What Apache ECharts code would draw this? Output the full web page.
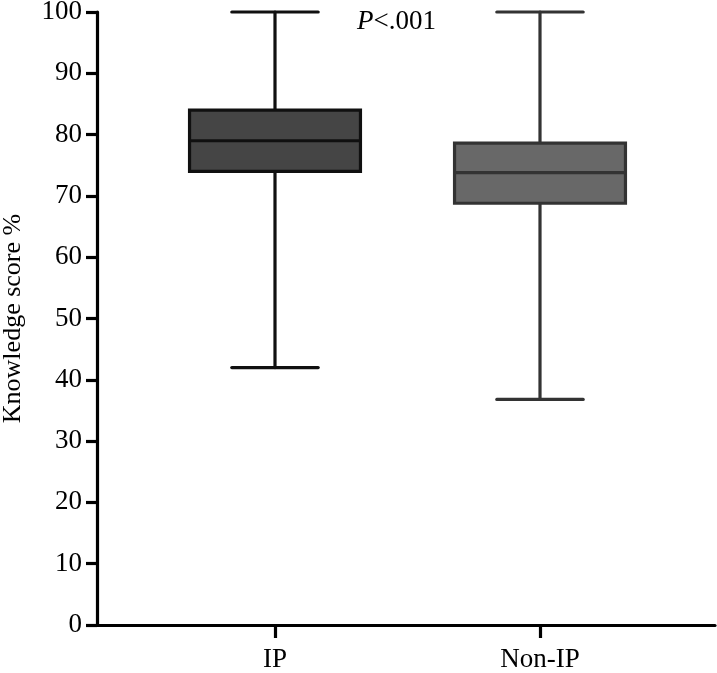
<!DOCTYPE html>
<html>
<head>
<meta charset="utf-8">
<script src="https://cdn.jsdelivr.net/npm/echarts@6/dist/echarts.min.js"></script>
<style>
  html, body { margin: 0; padding: 0; background: #fff; }
  #chart { width: 717px; height: 673px; }
</style>
</head>
<body>
<div id="chart"></div>
<script>
// data
var categories = ['IP', 'Non-IP']
var whiskerLow = [42, 36.8]
var q1 = [74, 68.8]
var median = [79, 73.8]
var q3 = [84, 78.6]
var whiskerHigh = [100, 100]
var yTicks = [0, 10, 20, 30, 40, 50, 60, 70, 80, 90, 100]

var fills = ['#454545', '#686868']
var strokes = ['#101010', '#333333']
var fontFamily = '"Liberation Serif", "Times New Roman", serif'

var boxData = categories.map(function (c, i) {
  return [i, whiskerLow[i], q1[i], median[i], q3[i], whiskerHigh[i]]
})

function renderBox (params, api) {
  var idx = api.value(0)
  var lo = api.coord([idx, api.value(1)])
  var b1 = api.coord([idx, api.value(2)])
  var md = api.coord([idx, api.value(3)])
  var b3 = api.coord([idx, api.value(4)])
  var hi = api.coord([idx, api.value(5)])
  var band = api.size([1, 0])[0]
  var half = band * 0.3225
  var cap = band * 0.163
  var x = lo[0]
  var lw = 3.2
  var ls = { stroke: strokes[idx], lineWidth: lw, lineCap: 'round' }
  return {
    type: 'group',
    children: [
      { type: 'line', shape: { x1: x, y1: hi[1], x2: x, y2: b3[1] }, style: ls },
      { type: 'line', shape: { x1: x, y1: b1[1], x2: x, y2: lo[1] }, style: ls },
      { type: 'line', shape: { x1: x - cap, y1: hi[1], x2: x + cap, y2: hi[1] }, style: ls },
      { type: 'line', shape: { x1: x - cap, y1: lo[1], x2: x + cap, y2: lo[1] }, style: ls },
      {
        type: 'rect',
        shape: { x: x - half, y: b3[1], width: half * 2, height: b1[1] - b3[1] },
        style: { fill: fills[idx], stroke: strokes[idx], lineWidth: lw }
      },
      { type: 'line', shape: { x1: x - half, y1: md[1], x2: x + half, y2: md[1] }, style: { stroke: strokes[idx], lineWidth: lw } }
    ]
  }
}

var chart = echarts.init(document.getElementById('chart'))
chart.setOption({
  animation: false,
  title: {
    left: 352,
    top: 3,
    text: '{i|P}{n|<.001}',
    textStyle: {
      fontWeight: 'normal',
      rich: {
        i: { fontFamily: fontFamily, fontStyle: 'italic', fontWeight: 'normal', fontSize: 27, color: '#000' },
        n: { fontFamily: fontFamily, fontWeight: 'normal', fontSize: 27, color: '#000' }
      }
    }
  },
  grid: [
    { left: 97, right: 2, top: 12, bottom: 48, outerBoundsMode: 'none', containLabel: false },
    { left: 142.5, right: 44.5, top: 12, bottom: 48, outerBoundsMode: 'none', containLabel: false }
  ],
  xAxis: [
    {
      type: 'value',
      gridIndex: 0,
      min: 0,
      max: 1,
      axisLine: { show: true, onZero: false, lineStyle: { color: '#000', width: 3.2 } },
      axisTick: { show: false },
      axisLabel: { show: false },
      splitLine: { show: false }
    },
    {
      type: 'category',
      gridIndex: 1,
      data: categories,
      boundaryGap: true,
      axisLine: { show: false },
      axisTick: { show: true, alignWithLabel: true, length: 13, lineStyle: { color: '#000', width: 3.2 } },
      axisLabel: { margin: 21, fontFamily: fontFamily, fontSize: 27, color: '#000' },
      splitLine: { show: false }
    }
  ],
  yAxis: [
    {
      type: 'value',
      gridIndex: 0,
      min: yTicks[0],
      max: yTicks[yTicks.length - 1],
      interval: 10,
      name: 'Knowledge score %',
      nameLocation: 'middle',
      nameGap: 71,
      nameTextStyle: { fontFamily: fontFamily, fontSize: 26, color: '#000' },
      axisLine: { show: true, lineStyle: { color: '#000', width: 3.2 } },
      axisTick: { show: true, length: 11, lineStyle: { color: '#000', width: 3.2 } },
      axisLabel: { margin: 15, fontFamily: fontFamily, fontSize: 27, color: '#000' },
      splitLine: { show: false }
    },
    {
      type: 'value',
      gridIndex: 1,
      min: yTicks[0],
      max: yTicks[yTicks.length - 1],
      show: false
    }
  ],
  series: [
    {
      type: 'custom',
      xAxisIndex: 1,
      yAxisIndex: 1,
      clip: false,
      renderItem: renderBox,
      encode: { x: 0, y: [1, 2, 3, 4, 5] },
      data: boxData
    }
  ]
})
</script>
</body>
</html>
